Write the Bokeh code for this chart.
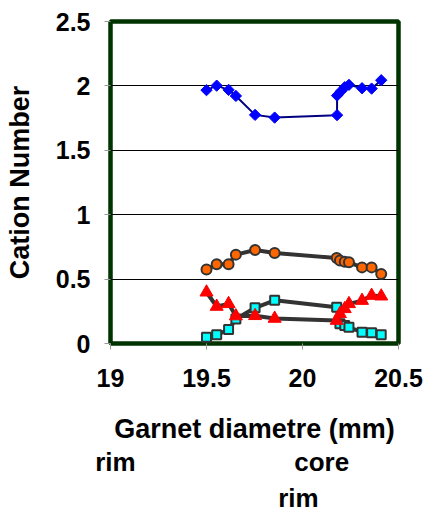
import math
from bokeh.plotting import figure
from bokeh.models import Range1d, FixedTicker, LinearAxis
from bokeh.embed import file_html
from bokeh.resources import INLINE

# ---- data ----
x_common = [19.50, 19.553, 19.615, 19.653, 19.753, 19.855, 20.178, 20.195, 20.22, 20.242, 20.31, 20.36, 20.41]
x_blue = [19.50, 19.553, 19.615, 19.653, 19.753, 19.855, 20.18, 20.18, 20.20, 20.22, 20.242, 20.31, 20.36, 20.41]
y_blue = [1.967, 2.002, 1.969, 1.922, 1.775, 1.754, 1.773, 1.925, 1.958, 1.99, 2.008, 1.982, 1.979, 2.044]
y_orange = [0.574, 0.615, 0.615, 0.69, 0.726, 0.703, 0.663, 0.645, 0.635, 0.63, 0.591, 0.591, 0.54]
y_cyan = [0.049, 0.067, 0.108, 0.19, 0.277, 0.335, 0.281, 0.153, 0.14, 0.126, 0.088, 0.083, 0.067]
y_red = [0.398, 0.287, 0.308, 0.213, 0.215, 0.194, 0.178, 0.23, 0.269, 0.308, 0.333, 0.372, 0.367]

x_ticks = [19, 19.5, 20, 20.5]
y_ticks = [0, 0.5, 1, 1.5, 2, 2.5]
x_title = "Garnet diametre (mm)"
y_title = "Cation Number"
note_row1 = {19.026: "rim", 20.10: "core"}
note_row2 = {19.979: "rim"}

FONT = "Liberation Sans"

p = figure(width=426, height=516, output_backend="svg", toolbar_location=None,
           x_range=Range1d(19, 20.5), y_range=Range1d(0, 2.5),
           min_border_left=110, min_border_right=28, min_border_top=21, min_border_bottom=173)
p.background_fill_color = "white"
p.border_fill_color = "white"
p.outline_line_color = "#003300"
p.outline_line_width = 4.5

p.xgrid.grid_line_color = None
p.ygrid.grid_line_color = "black"
p.ygrid.grid_line_width = 1
p.ygrid.ticker = FixedTicker(ticks=[0.5, 1, 1.5, 2])

for ax in (p.xaxis[0], p.yaxis[0]):
    ax.axis_line_color = None
    ax.major_tick_line_color = "#999999"
    ax.major_tick_out = 6
    ax.major_tick_in = 0
    ax.minor_tick_line_color = None
    ax.major_label_text_font = FONT
    ax.major_label_text_font_style = "bold"
    ax.major_label_text_font_size = "25px"
    ax.major_label_text_color = "black"
    ax.axis_label_text_font = FONT
    ax.axis_label_text_font_style = "bold"
    ax.axis_label_text_font_size = "27px"
    ax.axis_label_text_color = "black"

p.xaxis.ticker = FixedTicker(ticks=x_ticks)
p.yaxis.ticker = FixedTicker(ticks=y_ticks)
p.xaxis.major_label_overrides = {19: "19", 19.5: "19.5", 20: "20", 20.5: "20.5"}
p.yaxis.major_label_overrides = {0: "0", 0.5: "0.5", 1: "1", 1.5: "1.5", 2: "2", 2.5: "2.5"}
p.xaxis.major_label_standoff = 19
p.yaxis.major_label_standoff = 14
p.xaxis.axis_label = x_title
p.yaxis.axis_label = y_title
p.xaxis.axis_label_standoff = 24
p.yaxis.axis_label_standoff = 18


def note_axis(labels, standoff):
    ax = LinearAxis(ticker=FixedTicker(ticks=list(labels.keys())),
                    major_label_overrides=labels)
    ax.axis_line_color = None
    ax.major_tick_line_color = None
    ax.major_tick_out = 0
    ax.major_tick_in = 0
    ax.minor_tick_line_color = None
    ax.minor_tick_out = 0
    ax.major_label_standoff = standoff
    ax.major_label_text_font = FONT
    ax.major_label_text_font_style = "bold"
    ax.major_label_text_font_size = "26px"
    ax.major_label_text_color = "black"
    return ax


p.add_layout(note_axis(note_row1, 0), "below")
p.add_layout(note_axis(note_row2, 3), "below")

# blue series
p.line(x_blue, y_blue, line_color="#000080", line_width=2)
p.scatter(x_blue, y_blue, marker="square", angle=math.pi / 4, size=8,
          fill_color="#0000FF", line_color="#0000FF", line_width=1)

# orange series
p.line(x_common, y_orange, line_color="#333333", line_width=4)
p.scatter(x_common, y_orange, marker="circle", size=10,
          fill_color="#FF6600", line_color="#333333", line_width=2)

# cyan series
p.line(x_common, y_cyan, line_color="#333333", line_width=4)
p.scatter(x_common, y_cyan, marker="square", size=9,
          fill_color="#00FFFF", line_color="#333333", line_width=2)

# red series
p.line(x_common, y_red, line_color="#333333", line_width=4)
p.scatter(x_common, y_red, marker="triangle", size=13,
          fill_color="#FF0000", line_color="#FF0000", line_width=1)

open("out.html", "w").write(file_html(p, INLINE))
